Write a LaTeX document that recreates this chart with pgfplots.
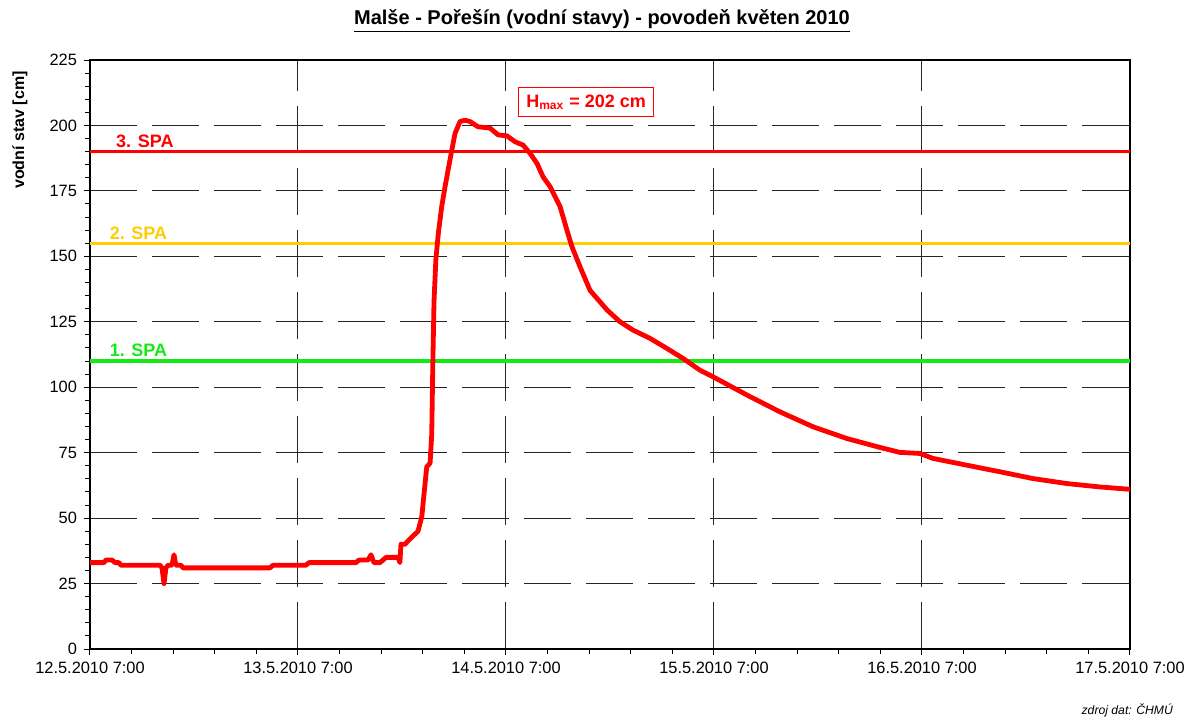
\documentclass[border=0pt]{standalone}
\usepackage{fontspec}
\setmainfont{Liberation Sans}
\usepackage{pgfplots}
\pgfplotsset{compat=1.18}
\definecolor{spared}{RGB}{255,0,0}
\definecolor{spayellow}{RGB}{255,204,0}
\definecolor{spagreen}{RGB}{20,235,20}
\begin{document}
\begin{tikzpicture}
\begin{axis}[
  at={(0,0)}, anchor=south west,
  scale only axis, width=520pt, height=294.5pt,
  xmin=0, xmax=5, ymin=0, ymax=225,
  xtick={0,1,2,3,4,5},
  xticklabels={12.5.2010 7:00,13.5.2010 7:00,14.5.2010 7:00,15.5.2010 7:00,16.5.2010 7:00,17.5.2010 7:00},
  minor x tick num=4,
  ytick={0,25,...,225}, minor y tick num=4,
  xtick pos=bottom, ytick pos=left,
  tick align=outside,
  major tick length=3pt, minor tick length=2.5pt,
  grid=major,
  major grid style={black!85, line width=0.5pt, dash pattern=on 23.5pt off 7.5pt},
  axis line style={black, line width=0.6pt},
  tick style={black, line width=0.5pt},
  ticklabel style={font=\fontsize{8.2}{10}\selectfont},
  /pgf/number format/assume math mode=true,
  clip=false,
]
\addplot[spagreen, line width=1.6pt] coordinates {(0,110) (5,110)};
\addplot[spayellow, line width=1.6pt] coordinates {(0,155) (5,155)};
\addplot[spared, line width=1.6pt] coordinates {(0,190) (5,190)};
\node[anchor=south, fill=white, inner sep=1pt, text=spared, font=\bfseries\fontsize{9}{10}\selectfont] at (axis cs:0.264,190.6) {3. SPA};
\node[anchor=south, inner sep=1pt, text=spayellow, font=\bfseries\fontsize{9}{10}\selectfont] at (axis cs:0.233,155.6) {2. SPA};
\node[anchor=south, inner sep=1pt, text=spagreen, font=\bfseries\fontsize{9}{10}\selectfont] at (axis cs:0.233,110.6) {1. SPA};
\addplot[spared, line width=2.4pt, line join=round] table {
0.000 33
0.067 33
0.077 34
0.106 34
0.120 33
0.139 33
0.149 32
0.337 32
0.346 31
0.356 25
0.365 31
0.375 32
0.394 32
0.404 36
0.413 32
0.438 32
0.447 31
0.865 31
0.880 32
1.038 32
1.053 33
1.279 33
1.293 34
1.337 34
1.351 36
1.365 33
1.394 33
1.409 34
1.423 35
1.481 35
1.490 33
1.495 40
1.514 40
1.538 42
1.577 45
1.595 50.5
1.619 69.6
1.635 71
1.643 82
1.648 108
1.654 133
1.663 149
1.675 159
1.691 169
1.707 176.6
1.731 187
1.755 197
1.779 201.5
1.803 202
1.827 201.5
1.865 199.5
1.923 199
1.962 196.4
2.005 196
2.043 193.8
2.082 192.5
2.115 189.4
2.149 185.5
2.178 180.4
2.212 176.6
2.260 169
2.293 160
2.317 153.7
2.356 146
2.404 137
2.486 129.5
2.548 125
2.611 121.8
2.692 118.7
2.774 114.8
2.851 111
2.933 106.5
2.995 104
3.159 97
3.317 90.6
3.476 84.9
3.639 80.4
3.798 77
3.894 75.1
3.990 74.7
4.053 72.8
4.216 70.2
4.375 67.7
4.534 65.1
4.697 63.2
4.856 61.9
5.000 61
};
\node[draw=spared, line width=0.5pt, fill=white, text=spared, font=\bfseries\fontsize{9}{10}\selectfont, minimum width=67.5pt, minimum height=14.5pt, inner sep=2pt] at (axis cs:2.385,209) {H\textsubscript{max} = 202 cm};
\end{axis}
\node[rotate=90, font=\bfseries\fontsize{8}{10}\selectfont] at (-35pt,259.5pt) {vodní stav [cm]};
\node[font=\bfseries\fontsize{10}{12}\selectfont] at (256pt,314pt) {\underline{Malše - Pořešín (vodní stavy) - povodeň květen 2010}};
\node[anchor=east, font=\itshape\fontsize{6.1}{8}\selectfont] at (545pt,-30.5pt) {zdroj dat: ČHMÚ};
\pgfresetboundingbox
\useasboundingbox (-45pt,-35.5pt) rectangle (553pt,324.5pt);
\end{tikzpicture}
\end{document}
